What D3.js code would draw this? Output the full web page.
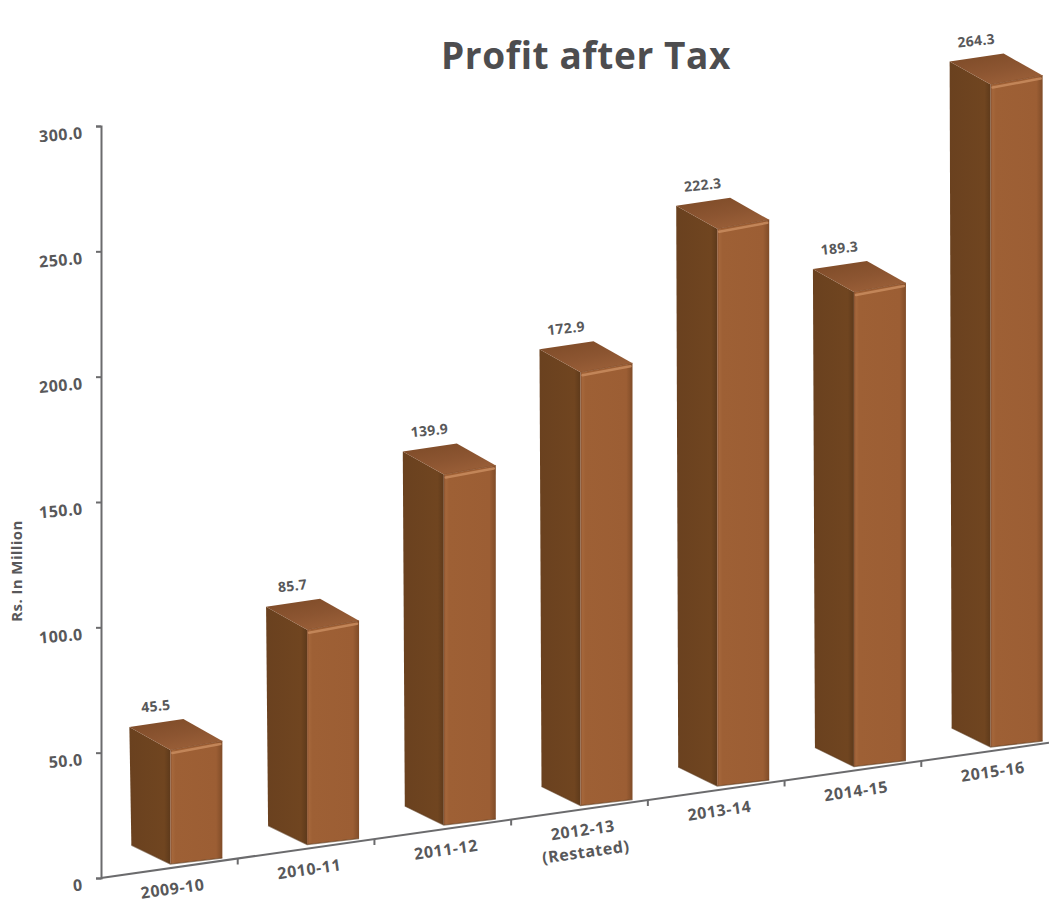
<!DOCTYPE html>
<html>
<head>
<meta charset="utf-8">
<script src="https://cdn.jsdelivr.net/npm/d3@7"></script>
<style>
  html, body { margin: 0; padding: 0; background: #ffffff; }
  svg { display: block; }
  text { font-family: "Open Sans", "Noto Sans", sans-serif; font-weight: 700; fill: #58585a; }
</style>
</head>
<body>
<svg id="chart" width="1049" height="903"></svg>
<script>
// ---- data ----
const categories = ["2009-10", "2010-11", "2011-12", "2012-13", "2013-14", "2014-15", "2015-16"];
const subLabels  = ["", "", "", "(Restated)", "", "", ""];
const values     = [45.5, 85.7, 139.9, 172.9, 222.3, 189.3, 264.3];
const yTicks     = [0, 50, 100, 150, 200, 250, 300];
const titleText  = "Profit after Tax";
const yTitle     = "Rs. In Million";

// ---- layout ----
const W = 1049, H = 903;
const axisX = 101;
const svg = d3.select("#chart");

const y = d3.scaleLinear().domain([0, 300]).range([878, 126]);
const x = d3.scaleBand().domain(categories).range([axisX, 1058]).paddingInner(0).paddingOuter(0);
const slope = 0.1427;                       // slant of the floor line
const baseY = px => y(0) - slope * (px - axisX);

// gradients
const defs = svg.append("defs");
function lin(id, stops, x1, y1, x2, y2) {
  const g = defs.append("linearGradient").attr("id", id)
    .attr("x1", x1).attr("y1", y1).attr("x2", x2).attr("y2", y2);
  stops.forEach(s => g.append("stop").attr("offset", s[0]).attr("stop-color", s[1]));
}
lin("gFront", [["0%", "#8a5230"], ["4%", "#a5673b"], ["10%", "#9e6035"], ["88%", "#9c5e34"], ["100%", "#804c28"]], "0%", "0%", "100%", "0%");
lin("gSide",  [["0%", "#6a411f"], ["85%", "#704520"], ["100%", "#5e3a1b"]], "0%", "0%", "100%", "0%");
lin("gTop",   [["0%", "#7c4a27"], ["60%", "#8c5531"], ["100%", "#9a5f38"]], "0%", "0%", "60%", "100%");

// title
svg.append("text")
  .attr("x", 586).attr("y", 69)
  .attr("text-anchor", "middle")
  .style("font-size", "37px")
  .style("letter-spacing", "0.6px")
  .style("fill", "#4d4d4f")
  .text(titleText);

// y axis
const yAxisG = svg.append("g").attr("transform", `translate(${axisX},0)`)
  .call(d3.axisLeft(y).tickValues(yTicks).tickSize(5).tickPadding(14)
    .tickFormat(d => d === 0 ? "0" : d3.format(".1f")(d)));
yAxisG.select(".domain").attr("stroke", "#6b6b6d").attr("stroke-width", 2);
yAxisG.selectAll(".tick line").attr("stroke", "#6b6b6d").attr("stroke-width", 2);
yAxisG.selectAll(".tick text")
  .style("font-size", "16px").style("font-family", "'Open Sans', sans-serif").style("font-weight", 700)
  .style("letter-spacing", "0.5px")
  .attr("fill", "#58585a")
  .attr("dy", "0.75em")
  .attr("transform", "rotate(-5,-19,0)");

// y title
svg.append("text")
  .attr("transform", "translate(22,571) rotate(-90)")
  .attr("text-anchor", "middle")
  .style("font-size", "15px")
  .style("letter-spacing", "0.4px")
  .text(yTitle);

// slanted x axis line
const xEnd = W;
svg.append("line")
  .attr("x1", axisX).attr("y1", baseY(axisX))
  .attr("x2", xEnd).attr("y2", baseY(xEnd))
  .attr("stroke", "#6b6b6d").attr("stroke-width", 2);
// ticks at band boundaries
const bounds = categories.slice(1).map(c => x(c));
svg.selectAll(".xtick").data(bounds).enter().append("line")
  .attr("class", "xtick")
  .attr("x1", d => d).attr("x2", d => d)
  .attr("y1", d => baseY(d)).attr("y2", d => baseY(d) + 6)
  .attr("stroke", "#6b6b6d").attr("stroke-width", 2);

// bars
const FW = 52;
const bars = categories.map((c, i) => {
  const xc = x(c) + x.bandwidth() / 2;
  const fx = xc + 1;
  const fby = baseY(fx) - 4;
  const h = y(0) - y(values[i]);
  const fty = fby - h;
  const FLb = [fx, fby], FRb = [fx + FW, fby - 6];
  const FLt = [fx, fty], FRt = [fx + FW, fty - 9];
  const BLt = [fx - 41, fty - 23], BLb = [fx - 39, fby - 19];
  const BRt = [BLt[0] + 54, BLt[1] - 8];
  return { c, i, xc, FLb, FRb, FLt, FRt, BLt, BLb, BRt, v: values[i] };
});
const poly = pts => "M" + pts.map(p => p.join(",")).join("L") + "Z";

const bg = svg.selectAll(".bar").data(bars).enter().append("g").attr("class", "bar");
bg.append("path").attr("d", b => poly([b.BLb, b.BLt, b.FLt, b.FLb])).attr("fill", "url(#gSide)");
bg.append("path").attr("d", b => poly([b.FLb, b.FLt, b.FRt, b.FRb])).attr("fill", "url(#gFront)");
bg.append("path").attr("d", b => poly([b.FLt, b.BLt, b.BRt, b.FRt])).attr("fill", "url(#gTop)");
// bevel highlight along front top edge
bg.append("path")
  .attr("d", b => `M${b.FLt[0] + 2},${b.FLt[1] + 3}L${b.FRt[0] - 2},${b.FRt[1] + 3}`)
  .attr("stroke", "#c98c5f").attr("stroke-width", 2.5).attr("stroke-linecap", "round").attr("opacity", 0.85);
bg.append("path")
  .attr("d", b => `M${b.FLt[0]},${b.FLt[1]}L${b.FRt[0]},${b.FRt[1]}`)
  .attr("stroke", "#8a532e").attr("stroke-width", 1).attr("opacity", 0.8);
// subtle bottom shadow edge
bg.append("path")
  .attr("d", b => `M${b.BLb[0]},${b.BLb[1]}L${b.FLb[0]},${b.FLb[1]}L${b.FRb[0]},${b.FRb[1]}`)
  .attr("stroke", "#5a3719").attr("stroke-width", 1.2).attr("fill", "none").attr("opacity", 0.6);

// value labels
bg.append("text")
  .attr("transform", b => {
    const cx = (b.BLt[0] + b.BRt[0]) / 2, cy = (b.BLt[1] + b.BRt[1]) / 2 - 12;
    return `translate(${cx},${cy}) rotate(-6)`;
  })
  .attr("text-anchor", "middle")
  .style("font-size", "14px")
  .style("letter-spacing", "0.3px")
  .text(b => d3.format(".1f")(b.v));

// category labels
const cl = svg.selectAll(".cat").data(bars).enter().append("text")
  .attr("class", "cat")
  .attr("transform", b => `translate(${b.xc + 4},${baseY(b.xc) + 26}) rotate(-8)`)
  .attr("text-anchor", "middle")
  .style("font-size", "16px")
  .style("letter-spacing", "0.6px");
cl.append("tspan").attr("x", 0).attr("y", 0).text(b => b.c);
cl.append("tspan").attr("x", 0).attr("y", 22).text(b => subLabels[b.i]);
</script>
</body>
</html>
